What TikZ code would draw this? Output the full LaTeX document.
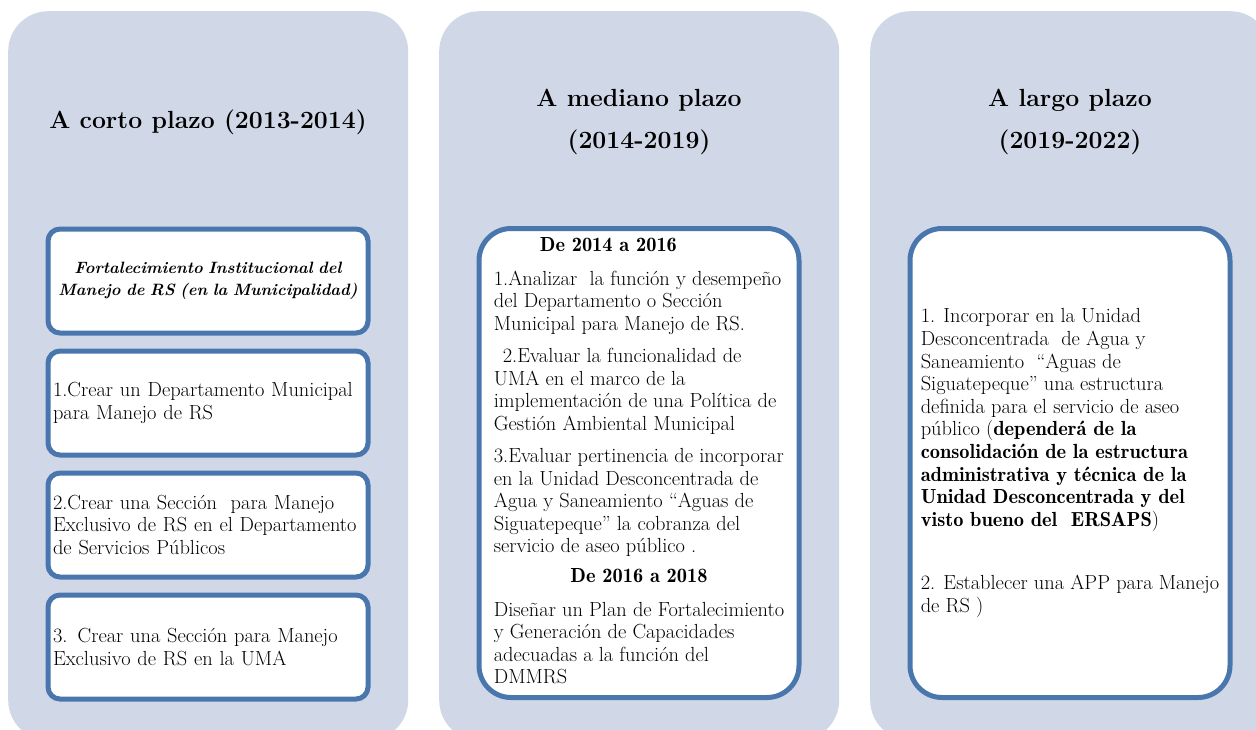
\documentclass[tikz,border=0pt]{standalone}
\usetikzlibrary{positioning}
\definecolor{panelblue}{HTML}{D0D8E8}
\definecolor{lineblue}{HTML}{4A76AE}
\newcommand{\demi}[1]{{\fontseries{b}\selectfont #1}}
\tikzset{
	panel/.style={fill=panelblue, draw=none, rounded corners=40pt, anchor=north west,
		minimum width=400pt, minimum height=729pt, inner sep=0pt},
	heading/.style={font=\fontsize{24.8}{42}\selectfont\bfseries, align=center},
	smallbox/.style={draw=lineblue, line width=5pt, fill=white, rounded corners=12pt,
		minimum width=320pt, minimum height=104pt, text width=310pt, inner xsep=5pt,
		align=left, font=\fontsize{20.4}{22.8}\selectfont},
	bigbox/.style={draw=lineblue, line width=5pt, fill=white, rounded corners=32pt,
		minimum width=320pt, minimum height=469pt, font=\fontsize{20.4}{22.6}\selectfont}
}

\begin{document}
\begin{tikzpicture}[x=1pt, y=-1pt]
	\useasboundingbox (0,0) rectangle (1256,729);
	%panels
	\node[panel] (corto) at (8,11) {};
	\node[panel] (mediano) at (439,11) {};
	\node[panel] (largo) at (870,11) {};
	%titles
	\node[heading, anchor=base] (tcorto) at (208,128) {A corto plazo (2013-2014)};
	\node[heading] (tmediano) at (639,122) {A mediano plazo\\(2014-2019)};
	\node[heading] (tlargo) at (1070,122) {A largo plazo\\(2019-2022)};
	%short term
	\node[smallbox, align=center, font=\fontsize{16.4}{22}\selectfont\bfseries\itshape] (fort) at (208,281)
	{Fortalecimiento Institucional del\\Manejo de RS (en la Municipalidad)};
	\node[smallbox, below=13pt of fort] (depto)
	{1.Crear un Departamento Municipal\\para Manejo de RS};
	\node[smallbox, below=13pt of depto] (seccion)
	{2.Crear una Sección\ \ para Manejo\\Exclusivo de RS en el Departamento\\de Servicios Públicos};
	\node[smallbox, below=13pt of seccion] (uma)
	{3. Crear una Sección para Manejo\\Exclusivo de RS en la UMA};
	%medium term
	\node[bigbox] (analisis) at (639,463) {%
		\begin{tabular}{@{}l@{}}
			\hspace*{46pt}\demi{De 2014 a 2016}\\[11.5pt]
			1.Analizar\ \ la función y desempeño\\
			del Departamento o Sección\\
			Municipal para Manejo de RS.\\[9.5pt]
			\hspace*{9pt}2.Evaluar la funcionalidad de\\
			UMA en el marco de la\\
			implementación de una Política de\\
			Gestión Ambiental Municipal\\[9.5pt]
			3.Evaluar pertinencia de incorporar\\
			en la Unidad Desconcentrada de\\
			Agua y Saneamiento “Aguas de\\
			Siguatepeque” la cobranza del\\
			servicio de aseo público .\\[7.5pt]
			\multicolumn{1}{@{}c@{}}{\demi{De 2016 a 2018}}\\[10.5pt]
			Diseñar un Plan de Fortalecimiento\\
			y Generación de Capacidades\\
			adecuadas a la función del\\
			DMMRS
		\end{tabular}};
	%long term
	\node[bigbox] (estructura) at (1070,463) {%
		\begin{tabular}{@{}l@{}}
			1. Incorporar en la Unidad\\
			Desconcentrada\ \ de Agua y\\
			Saneamiento\ \ “Aguas de\\
			Siguatepeque” una estructura\\
			definida para el servicio de aseo\\
			público (\demi{dependerá de la}\\
			\demi{consolidación de la estructura}\\
			\demi{administrativa y técnica de la}\\
			\demi{Unidad Desconcentrada y del}\\
			\demi{visto bueno del\ \ ERSAPS})\\[40.5pt]
			2. Establecer una APP para Manejo\\
			de RS )
		\end{tabular}};
\end{tikzpicture}
\end{document}
